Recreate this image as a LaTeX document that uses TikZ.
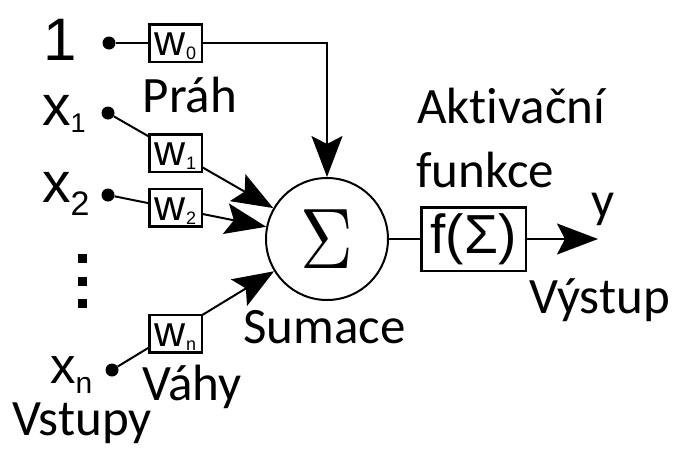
\documentclass[tikz,border=0pt]{standalone}
\usepackage{fontspec}
\setmainfont{Carlito}[Ligatures=NoCommon]
\newfontfamily\arialf{Liberation Sans}
\usetikzlibrary{arrows.meta}
\begin{document}
\begin{tikzpicture}[x=1pt,y=-1pt,
  lbl/.style={font=\fontsize{51}{60}\selectfont, inner sep=0pt, anchor=base west},
  sym/.style={font=\arialf, inner sep=0pt, anchor=base west},
  wbox/.style={draw, line width=2.5pt, fill=white, minimum width=52.5pt, minimum height=37.5pt,
    inner sep=0pt, text height=29pt, text depth=4pt, font=\arialf\fontsize{43}{43}\selectfont},
  fbox/.style={draw, line width=2.5pt, fill=white, minimum width=104.5pt, minimum height=63.5pt,
    inner sep=0pt, font=\arialf\fontsize{55}{55}\selectfont},
  sumnode/.style={draw, circle, line width=2pt, minimum size=122pt, inner sep=0pt},
  dotnode/.style={circle, fill, inner sep=0pt, minimum size=13pt},
  vdot/.style={rectangle, fill, inner sep=0pt, minimum size=9pt},
  conn/.style={line width=2pt},
  arr/.style={line width=2pt, -{Stealth[length=41pt,width=31pt,inset=8pt]}}
]
\useasboundingbox (0,0) rectangle (680,448);

% input labels
\node[sym, anchor=base, font=\arialf\fontsize{60}{60}\selectfont] (one) at (60.5,60) {1};
\node[sym, font=\arialf\fontsize{57}{57}\selectfont] (x1) at (42,125) {x\raisebox{-7pt}{\fontsize{27}{27}\selectfont 1}};
\node[sym, font=\arialf\fontsize{57}{57}\selectfont] (x2) at (42,202) {x\raisebox{-13pt}{\fontsize{34}{34}\selectfont 2}};
\node[sym, font=\arialf\fontsize{51}{51}\selectfont] (xn) at (50,383) {x\raisebox{-10pt}{\fontsize{30}{30}\selectfont n}};

% vertical dots
\node[vdot] (v1) at (82,258) {};
\node[vdot] (v2) at (82,281.5) {};
\node[vdot] (v3) at (82,303) {};

% input dots
\node[dotnode] (d0) at (109,43) {};
\node[dotnode] (d1) at (108,113) {};
\node[dotnode] (d2) at (108,195) {};
\node[dotnode] (dn) at (112,370) {};

% summation
\node[sumnode] (sum) at (327,239) {\scalebox{7.3}[8.6]{$\Sigma$}};

% connectors (under weight boxes)
\draw[arr] (d0) -| (sum);
\draw[arr] (d1) -- (sum);
\draw[arr] (d2) -- (sum);
\draw[arr] (dn) -- (sum);

% weight boxes
\node[wbox] (w0) at (175.5,43) {w\raisebox{-4pt}{\fontsize{18}{18}\selectfont 0}};
\node[wbox] (w1) at (175.5,153) {w\raisebox{-4pt}{\fontsize{18}{18}\selectfont 1}};
\node[wbox] (w2) at (175.5,207.5) {w\raisebox{-4pt}{\fontsize{18}{18}\selectfont 2}};
\node[wbox] (wn) at (175.5,333.5) {w\raisebox{-4pt}{\fontsize{18}{18}\selectfont n}};

% activation
\node[fbox] (f) at (473.5,239) {f(Σ)};
\coordinate (yend) at (598,239);
\draw[conn] (sum) -- (f);
\draw[arr] (f) -- (yend);

% labels
\node[lbl] (prah) at (142.5,112) {Práh};
\node[lbl] (akt1) at (417,123) {Aktivační};
\node[lbl] (akt2) at (416,187) {funkce};
\node[lbl] (yout) at (591,217) {y};
\node[lbl] (sumace) at (243,343) {Sumace};
\node[lbl] (vystup) at (529,313) {Výstup};
\node[lbl] (vahy) at (142,400) {Váhy};
\node[lbl] (vstupy) at (12,435) {Vstupy};
\end{tikzpicture}
\end{document}
